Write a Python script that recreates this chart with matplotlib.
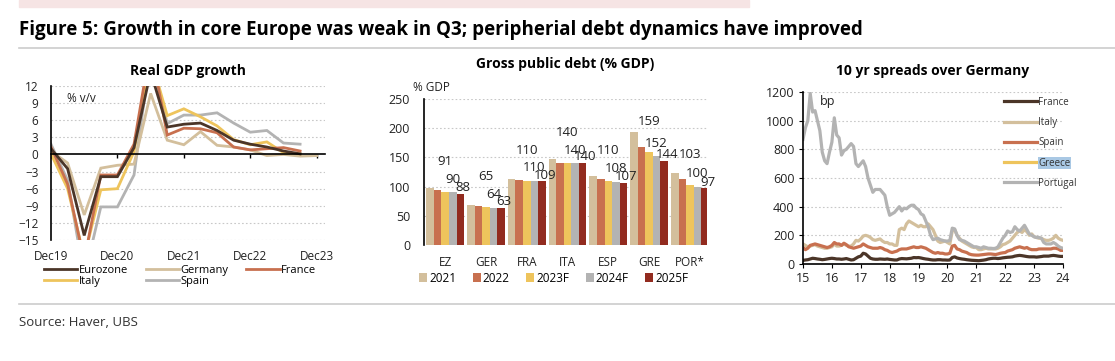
import matplotlib
matplotlib.use("Agg")
import matplotlib.pyplot as plt
import numpy as np
from matplotlib.patches import Rectangle
from matplotlib.lines import Line2D

plt.rcParams['font.family'] = ['Open Sans', 'DejaVu Sans']

# ---------- data: Real GDP growth (% y/y), quarterly from Q4 2019 ----------
gdp_ticks = ['Dec19', 'Dec20', 'Dec21', 'Dec22', 'Dec23']
eurozone = [1.0, -2.5, -14.2, -3.9, -3.9, 1.2, 14.5, 4.8, 5.3, 5.5, 4.2, 2.5, 1.8, 1.3, 0.6, 0.1]
germany = [0.6, -1.5, -10.6, -2.4, -1.9, -1.7, 10.7, 2.5, 1.7, 4.0, 1.6, 1.3, 0.8, -0.2, 0.0, -0.3, -0.2]
france = [1.3, -5.2, -18.6, -3.6, -3.6, 1.8, 19.0, 3.4, 4.6, 4.5, 3.8, 1.3, 0.8, 1.0, 1.2, 0.6]
italy = [0.1, -6.0, -18.0, -6.2, -6.0, 0.5, 17.0, 6.8, 8.0, 6.6, 5.0, 2.6, 1.7, 2.2, 0.3, 0.1]
spain = [1.8, -4.5, -21.5, -9.2, -9.2, -3.6, 17.8, 5.4, 6.9, 6.9, 7.3, 5.5, 3.9, 4.2, 2.0, 1.8]

# ---------- data: Gross public debt (% GDP) ----------
countries = ['EZ', 'GER', 'FRA', 'ITA', 'ESP', 'GRE', 'POR*']
years = ['2021', '2022', '2023F', '2024F', '2025F']
debt = {
    '2021':  [97, 69, 113, 147, 118, 194, 124],
    '2022':  [94, 66, 111, 141, 113, 167, 113],
    '2023F': [91, 65, 110, 140, 110, 159, 103],
    '2024F': [90, 64, 110, 140, 108, 152, 100],
    '2025F': [88, 63, 109, 140, 107, 144, 97],
}

# ---------- data: 10y spreads over Germany (bp), monthly Jan 2015 - Jan 2024 ----------
spr_france = [25, 28, 30, 35, 40, 38, 35, 33, 30, 32, 35, 38,
              40, 38, 35, 35, 33, 35, 38, 33, 28, 30, 40, 50,
              55, 75, 70, 55, 40, 35, 33, 33, 35, 34, 33, 35,
              32, 30, 28, 28, 35, 38, 37, 36, 38, 40, 45, 44,
              45, 42, 38, 35, 33, 30, 28, 28, 30, 30, 28, 28,
              27, 28, 45, 50, 42, 38, 35, 33, 30, 28, 26, 25,
              24, 23, 25, 27, 30, 35, 38, 40, 40, 38, 40, 43,
              45, 47, 48, 50, 55, 58, 60, 58, 55, 52, 50, 50,
              50, 48, 50, 52, 55, 55, 55, 58, 60, 58, 55, 53,
              53]
spr_italy = [140, 130, 120, 125, 130, 135, 125, 120, 115, 110, 110, 115,
             120, 140, 125, 125, 130, 140, 130, 125, 125, 140, 165, 160,
             175, 195, 200, 195, 185, 170, 165, 170, 175, 160, 150, 150,
             140, 140, 130, 130, 240, 250, 240, 280, 300, 290, 280, 270,
             260, 270, 260, 260, 280, 260, 240, 200, 160, 150, 155, 160,
             150, 140, 230, 240, 200, 180, 160, 150, 140, 130, 120, 115,
             115, 100, 100, 105, 110, 105, 105, 105, 105, 110, 120, 135,
             140, 150, 160, 180, 200, 220, 230, 220, 240, 225, 200, 210,
             190, 185, 180, 180, 170, 165, 165, 170, 180, 200, 180, 170,
             165]
spr_spain = [115, 100, 110, 130, 135, 140, 135, 130, 125, 120, 115, 120,
             130, 150, 140, 140, 130, 145, 135, 120, 115, 110, 115, 120,
             125, 140, 130, 120, 115, 110, 110, 110, 115, 110, 100, 95,
             85, 80, 85, 90, 100, 105, 105, 105, 110, 115, 120, 115,
             115, 120, 115, 110, 100, 90, 80, 75, 80, 75, 75, 70,
             70, 75, 125, 130, 105, 100, 90, 85, 80, 70, 65, 63,
             62, 62, 64, 66, 68, 70, 70, 68, 66, 70, 75, 78,
             80, 90, 95, 100, 110, 115, 120, 115, 110, 115, 105, 100,
             100, 100, 105, 105, 105, 105, 105, 105, 110, 110, 105, 95,
             95]
spr_portugal = [870, 950, 1000, 1190, 1060, 1070, 1000, 930, 780, 720, 700, 780,
                850, 1020, 900, 880, 760, 790, 800, 820, 840, 820, 700, 680,
                700, 720, 680, 600, 550, 500, 520, 520, 520, 500, 480, 400,
                340, 350, 360, 380, 400, 370, 390, 385, 400, 410, 410, 390,
                380, 350, 340, 300, 260, 200, 170, 175, 180, 170, 165, 160,
                160, 165, 250, 245, 200, 170, 165, 160, 150, 140, 130, 120,
                120, 115, 110, 120, 115, 110, 110, 108, 110, 120, 150, 180,
                200, 230, 220, 225, 260, 240, 230, 250, 270, 240, 210, 200,
                190, 185, 185, 180, 150, 140, 140, 140, 150, 140, 125, 115,
                110]

c_dark = '#4B3528'
c_beige = '#D3BF9C'
c_salmon = '#C8704F'
c_yellow = '#EEC45C'
c_grey = '#B3B3B3'
c_red = '#922B1F'
txt = '#222222'
grid_kw = dict(color='#C8C8C8', linestyle=(0, (1.5, 2)), linewidth=0.8)

fig = plt.figure(figsize=(11.15, 3.61), dpi=100)

# header / footer decorations
fig.patches.append(Rectangle((19/1115, 1 - 7/361), (749-19)/1115, 7/361,
                             transform=fig.transFigure, color='#F6E4E4', zorder=0))
fig.text(19/1115, 1 - 30/361, 'Figure 5: Growth in core Europe was weak in Q3; peripherial debt dynamics have improved',
         fontsize=13.5, fontweight='bold', color='black', va='center', ha='left')
fig.add_artist(Line2D([19/1115, 1], [1 - 48/361, 1 - 48/361], color='#CCCCCC', lw=1.2))
fig.add_artist(Line2D([19/1115, 1], [1 - 304/361, 1 - 304/361], color='#CCCCCC', lw=1.2))
fig.text(19/1115, 1 - 323/361, 'Source: Haver, UBS', fontsize=9.5, color='#333333', va='center', ha='left')

# ---------- panel 1: Real GDP growth ----------
ax1 = fig.add_axes([51/1115, 1 - 240/361, (325-51)/1115, (240-86)/361])
for name, vals, col in [('Spain', spain, c_grey), ('Germany', germany, c_beige),
                        ('Italy', italy, c_yellow), ('France', france, c_salmon),
                        ('Eurozone', eurozone, c_dark)]:
    ax1.plot(np.arange(len(vals)), vals, color=col, lw=2.0, label=name, solid_joinstyle='miter')
ax1.set_ylim(-15, 12)
ax1.set_xlim(0, 16.5)
ax1.set_yticks(np.arange(-15, 13, 3))
for yv in np.arange(-15, 13, 3):
    if yv != 0:
        ax1.axhline(yv, zorder=0, **grid_kw)
for s in ['top', 'right']:
    ax1.spines[s].set_visible(False)
ax1.spines['left'].set_linewidth(1.2)
ax1.spines['bottom'].set_position(('data', 0))
ax1.spines['bottom'].set_linewidth(1.2)
ax1.set_xticks([0, 4, 8, 12, 16])
ax1.tick_params(axis='x', direction='out', length=3, labelbottom=False, width=1)
ax1.tick_params(axis='y', length=0, labelsize=8.5, labelcolor=txt, pad=9)
sec = ax1.secondary_xaxis('bottom')
sec.set_xticks([0, 4, 8, 12, 16])
sec.set_xticklabels(gdp_ticks)
sec.tick_params(length=0, labelsize=8.5, labelcolor=txt, pad=7)
sec.spines['bottom'].set_visible(False)
ax1.text(0.06, 0.92, '% v/v', transform=ax1.transAxes, fontsize=8.5, color=txt, va='center')
ax1.set_title('Real GDP growth', fontsize=10, fontweight='bold', pad=8)
h, l = ax1.get_legend_handles_labels()
order = ['Eurozone', 'Italy', 'Germany', 'Spain', 'France']
hs = [h[l.index(o)] for o in order]
fig.legend(hs, order, loc='center left', bbox_to_anchor=(38/1115, 1 - 276/361), ncol=3,
           frameon=False, fontsize=8, handlelength=3.0, handletextpad=0.15,
           columnspacing=1.6, labelspacing=0.05, borderpad=0)

# ---------- panel 2: Gross public debt ----------
ax2 = fig.add_axes([424/1115, 1 - 245/361, (707-424)/1115, (245-99)/361])
cols = [c_beige, c_salmon, c_yellow, c_grey, c_red]
x = np.arange(len(countries))
w = 0.185
offs = {'2023F': 22, '2024F': 9.5, '2025F': 4.5}
for i, (yr, col) in enumerate(zip(years, cols)):
    xs = x + (i - 2) * w
    vals = debt[yr]
    ax2.bar(xs, vals, width=w, color=col, label=yr, zorder=2)
    if yr in offs:
        for xx, vv in zip(xs, vals):
            ax2.annotate(str(vv), (xx, vv), xytext=(2 if yr == '2025F' else 0, offs[yr]),
                         textcoords='offset points', ha='center', va='center',
                         fontsize=9.5, color=txt, zorder=3)
ax2.set_xlim(-0.52, 6.42)
ax2.set_ylim(0, 250)
ax2.set_yticks(np.arange(0, 251, 50))
for yv in np.arange(50, 251, 50):
    ax2.axhline(yv, zorder=0, **grid_kw)
for s in ['top', 'right', 'bottom']:
    ax2.spines[s].set_visible(False)
ax2.spines['left'].set_linewidth(1.2)
ax2.set_xticks(x)
ax2.set_xticklabels(countries)
ax2.tick_params(axis='x', length=0, labelsize=8.5, labelcolor=txt, pad=8)
ax2.tick_params(axis='y', length=0, labelsize=9, labelcolor=txt, pad=10)
ax2.text(-0.04, 1.08, '% GDP', transform=ax2.transAxes, fontsize=8.5, color=txt, va='center', ha='left')
ax2.set_title('Gross public debt (% GDP)', fontsize=10, fontweight='bold', pad=22)
fig.legend(*ax2.get_legend_handles_labels(), loc='center left', bbox_to_anchor=(413/1115, 1 - 278/361),
           ncol=5, frameon=False, fontsize=8.5, handlelength=0.7, handleheight=0.7,
           handletextpad=0.15, columnspacing=1.4, borderpad=0)

# ---------- panel 3: 10 yr spreads ----------
ax3 = fig.add_axes([803/1115, 1 - 264/361, (1063-803)/1115, (264-92)/361])
t = 15 + np.arange(len(spr_france)) / 12
ax3.plot(t, spr_italy, color=c_beige, lw=2.3)
ax3.plot(t, spr_spain, color=c_salmon, lw=2.3)
ax3.plot(t, spr_portugal, color=c_grey, lw=2.3)
ax3.plot(t, spr_france, color=c_dark, lw=2.3)
ax3.set_xlim(15, 24)
ax3.set_ylim(0, 1200)
ax3.set_yticks(np.arange(0, 1201, 200))
for yv in np.arange(200, 1201, 200):
    ax3.axhline(yv, zorder=0, **grid_kw)
for s in ['top', 'right']:
    ax3.spines[s].set_visible(False)
ax3.spines['left'].set_linewidth(1.2)
ax3.spines['bottom'].set_linewidth(1.2)
ax3.set_xticks(np.arange(15, 25))
ax3.set_xticklabels([str(v) for v in range(15, 25)])
ax3.tick_params(axis='x', direction='out', length=3, labelsize=9, labelcolor=txt, pad=3)
ax3.tick_params(axis='y', direction='out', length=3, labelsize=9, labelcolor=txt, pad=3)
ax3.text(0.065, 0.945, 'bp', transform=ax3.transAxes, fontsize=9, color=txt, va='center')
ax3.set_title('10 yr spreads over Germany', fontsize=10, fontweight='bold', pad=12)
leg_lines = [ax3.plot([], [], color=c, lw=2.3)[0] for c in [c_dark, c_beige, c_salmon, c_yellow, c_grey]]
leg = ax3.legend(leg_lines, ['France', 'Italy', 'Spain', 'Greece', 'Portugal'], loc='upper left',
                 bbox_to_anchor=(0.755, 1.0), frameon=False, fontsize=7, handlelength=3.4,
                 handletextpad=0.1, labelspacing=0.95, borderpad=0)
for tx in leg.get_texts():
    tx.set_color('#333333')
leg.get_texts()[3].set_bbox(dict(facecolor='#A9C8E4', edgecolor='none', pad=0.5))

fig.savefig('out.png', dpi=100)
